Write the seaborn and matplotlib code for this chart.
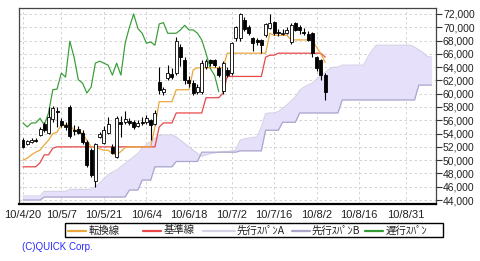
import matplotlib
matplotlib.use("Agg")
import matplotlib.pyplot as plt
import seaborn as sns
import numpy as np
import pandas as pd
from matplotlib.lines import Line2D
from matplotlib.patches import Rectangle

sns.set_theme(style="white")
plt.rcParams['font.family'] = ['Liberation Sans', 'Noto Sans CJK JP', 'DejaVu Sans']

# ---------------- data ----------------
tick_labels = ["10/4/20", "10/5/7", "10/5/21", "10/6/4", "10/6/18",
               "10/7/2", "10/7/16", "10/8/2", "10/8/16", "10/8/31"]
tick_days = [0, 9, 19, 29, 39, 49, 59, 69, 79, 90]

opens = [53000, 52500, 52800, 53000, 53800, 55400, 54100, 56200, 57400, 55900,
         55300, 58000, 54600, 54700, 54100, 52700, 51500, 46800, 53500, 52600,
         54100, 52000, 50500, 55700, 55700, 55900, 55800, 55200, 55800, 55800,
         56000, 55500, 61800, 60200, 62400, 63000, 63100, 67000, 65000, 62000,
         61600, 60300, 60300, 64000, 65000, 65000, 63900, 60400, 63500, 63100,
         68400, 68400, 71100, 70000, 68400, 68100, 68100, 68800, 69900, 70800,
         69300, 69000, 69200, 67800, 70600, 70000, 69300, 69000, 69100, 65500,
         65100, 62800]
highs = [53300, 53100, 53300, 53400, 55000, 55700, 58000, 58200, 58000, 56400,
         55700, 58300, 55300, 55200, 54500, 53000, 51800, 52600, 54300, 55200,
         56500, 52500, 56600, 56700, 57400, 56300, 56000, 56000, 56500, 56800,
         56200, 57500, 64000, 61000, 64300, 63800, 68500, 67500, 65500, 62600,
         62000, 61500, 65000, 65300, 65300, 65300, 64200, 64900, 64000, 67800,
         70200, 72200, 71500, 70300, 68600, 68400, 68300, 70600, 72000, 71000,
         69800, 69800, 70000, 70600, 70800, 70300, 69900, 69500, 69300, 65700,
         65300, 63100]
lows = [51800, 52300, 52600, 52700, 53600, 54300, 53900, 55800, 55000, 55000,
        54600, 53300, 53800, 53900, 52400, 49000, 47500, 46000, 53300, 52400,
        53900, 50900, 50300, 53500, 55400, 55300, 54700, 55000, 55300, 55500,
        53000, 55300, 60000, 59800, 62000, 62200, 62800, 64200, 61500, 61000,
        59800, 60000, 60000, 63700, 64200, 64000, 62500, 59900, 62500, 62800,
        68000, 68000, 69400, 68800, 66400, 67400, 66100, 68500, 69700, 68800,
        68700, 68800, 69000, 67500, 69400, 69000, 68800, 68000, 65500, 63400,
        62100, 59000]
closes = [52000, 52900, 53000, 52900, 54700, 54500, 56500, 57800, 57200, 55300,
          55000, 53600, 54400, 54100, 52700, 49300, 47800, 52400, 54000, 54500,
          55500, 51100, 56300, 55500, 56200, 55600, 55000, 55600, 55600, 56300,
          55300, 57100, 60600, 60700, 63100, 62500, 67900, 65500, 62100, 61600,
          60100, 61000, 64600, 64900, 64600, 64300, 62800, 64600, 62800, 67600,
          70000, 72000, 69800, 69100, 67600, 67800, 67300, 70500, 70700, 69100,
          69100, 69100, 69600, 70300, 69600, 69600, 69100, 68100, 66100, 63800,
          62800, 60300]

tenkan = [50000, 50300, 50800, 51200, 51500, 52300, 53000, 54000, 54200, 55300,
          55300, 55300, 54500, 54500, 54000, 53000, 52000, 52000, 51700, 51500,
          51500, 51000, 50800, 51300, 51900, 52000, 52000, 52000, 52000, 52000,
          52000, 55000, 58800, 58800, 58800, 58800, 60600, 60600, 60600, 60600,
          63600, 63900, 63900, 63900, 63900, 63900, 63900, 63900, 66100, 66100,
          66100, 66100, 66100, 66100, 66100, 66100, 66100, 66100, 69100, 68800,
          68800, 68800, 68800, 68100, 68100, 68100, 68100, 68100, 68100, 67000,
          66000, 64700]
kijun = [49000, 49000, 49000, 49000, 49600, 50800, 50800, 51800, 52000, 52000,
         52000, 52000, 52000, 52000, 52000, 52000, 52000, 52000, 52000, 52000,
         52000, 52000, 52000, 52000, 52000, 52000, 52000, 52000, 52000, 52000,
         52000, 52000, 55000, 55600, 55600, 55600, 57100, 57100, 57100, 57100,
         57100, 57100, 57100, 59400, 59400, 59400, 59400, 60100, 62600, 62600,
         62600, 62600, 62600, 62600, 62600, 62600, 62600, 65500, 65800, 65800,
         66100, 66100, 66100, 66100, 66100, 66100, 66100, 66100, 66100, 66100,
         66100, 65500]
span_a = [44600, 44600, 44600, 44600, 44600, 45300, 45300, 45300, 45300, 45300,
          45300, 45600, 45600, 45600, 45600, 45600, 45600, 46000, 46500, 47200,
          47800, 48200, 48500, 49000, 49500, 50000, 50500, 51000, 51800, 52300,
          52800, 53300, 53700, 53800, 53800, 53800, 53500, 53000, 52500, 52000,
          51500, 51000, 50600, 50800, 51000, 51100, 51200, 51300, 51300, 51400,
          51500, 53000, 53200, 53300, 53400, 53500, 55000, 57000, 57100, 57100,
          57300, 57800, 58300, 58900, 59500, 60500, 61000, 61300, 61600, 62200,
          62700, 63200, 63700, 64000, 64000, 64300, 64300, 64300, 64300, 64300,
          64300, 65500, 66500, 67300, 67300, 67300, 67300, 67300, 67300, 67300,
          67300, 67300, 67000, 66600, 66200, 65600, 65500]
span_b = [44000, 44000, 44000, 44000, 44000, 44450, 44450, 44450, 44450, 44450,
          44450, 44450, 44450, 44450, 44450, 44450, 44450, 44450, 44450, 44450,
          44450, 44450, 44450, 44450, 44450, 45500, 45500, 45500, 47000, 47000,
          47000, 49000, 49000, 49000, 49000, 49000, 49800, 49800, 49800, 49800,
          49800, 49800, 51200, 51200, 51200, 51200, 51200, 51200, 51200, 51200,
          51200, 51400, 51400, 51400, 51400, 51400, 51400, 54500, 54500, 54500,
          54500, 55700, 55700, 55700, 55700, 57100, 57100, 57100, 57100, 57100,
          57100, 57100, 57100, 57100, 57100, 59060, 59060, 59060, 59060, 59060,
          59060, 59060, 59060, 59060, 59060, 59060, 59060, 59060, 59060, 59060,
          59060, 59060, 59060, 61300, 61300, 61300, 61300]
lag = 25

# ---------------- frames ----------------
price = pd.DataFrame({"day": np.arange(len(closes)), "open": opens, "high": highs,
                      "low": lows, "close": closes, "tenkan": tenkan, "kijun": kijun})
cloud = pd.DataFrame({"day": np.arange(len(span_a)), "a": span_a, "b": span_b})
chikou = pd.DataFrame({"day": price["day"].values[:len(closes) - lag],
                       "v": price["close"].values[lag:]})

W, H = 480, 261
fig = plt.figure(figsize=(W / 100, H / 100), dpi=100)
fig.patch.set_facecolor("white")
L, R, T, B = 19, 436, 8, 204
ax = fig.add_axes([L / W, 1 - B / H, (R - L) / W, (B - T) / H])
ax.set_facecolor("white")

# cloud
ax.fill_between(cloud["day"], cloud["a"], cloud["b"], color="#e6e0fa", lw=0, zorder=1)
sns.lineplot(data=cloud, x="day", y="a", ax=ax, color="#d6d3e6", lw=0.9, zorder=2)
sns.lineplot(data=cloud, x="day", y="b", ax=ax, color="#aaa6cc", lw=0.9, zorder=2)

# lines
sns.lineplot(data=price, x="day", y="kijun", ax=ax, color="#e84848", lw=0.9, zorder=3)
sns.lineplot(data=price, x="day", y="tenkan", ax=ax, color="#eaa83c", lw=0.9, zorder=3)
sns.lineplot(data=chikou, x="day", y="v", ax=ax, color="#349c34", lw=0.85, zorder=3)

# candles
up = price["close"] >= price["open"]
ax.vlines(price["day"], price["low"], price["high"], color="black", lw=0.8, zorder=4)
body_lo = np.minimum(price["open"], price["close"])
body_h = np.maximum(np.abs(price["close"] - price["open"]), 80)
ax.bar(price["day"], body_h, bottom=body_lo, width=0.7,
       color=np.where(up, "white", "black"), edgecolor="black", lw=0.6, zorder=5)

# axes
ax.set_xlim(-0.94, 97.04)
ax.set_ylim(43398, 72903)
yt = np.arange(44000, 72001, 2000)
ax.set_yticks(yt)
ax.set_yticklabels([f"{v:,}" for v in yt])
ax.yaxis.tick_right()
ax.set_xticks(tick_days)
ax.set_xticklabels(tick_labels)
ax.tick_params(axis="y", which="both", direction="out", length=4, width=0.8,
               color="#333333", labelsize=7.5, pad=1, labelcolor="#222222", right=True, left=False)
ax.tick_params(axis="x", direction="out", length=3, width=0.8, color="#6070a0",
               labelsize=8, pad=1.5, labelcolor="#222222")
ax.grid(True, ls=(0, (3, 3)), color="#cccccc", lw=0.6, zorder=0)
ax.set_axisbelow(True)
ax.set_xlabel("")
ax.set_ylabel("")
for s in ["top", "left", "right"]:
    ax.spines[s].set_visible(True)
    ax.spines[s].set_color("#444444")
    ax.spines[s].set_linewidth(0.9)
ax.spines["bottom"].set_color("black")
ax.spines["bottom"].set_linewidth(1.6)

# legend (manual, in pixel coords)
def fx(px):
    return px / W

def fy(py):
    return 1 - py / H

fig.patches.append(Rectangle((fx(65), fy(237)), fx(443) - fx(65), fy(223) - fy(237),
                             transform=fig.transFigure, fill=False, ec="black", lw=1.0))
legend_items = [
    (68, 86, "#eaa83c", "転換線", 89),
    (143, 161, "#e84848", "基準線", 164),
    (203, 235, "#d6d3e6", "先行ｽﾊﾟﾝA", 237),
    (292, 310, "#aaa6cc", "先行ｽﾊﾟﾝB", 312),
    (365, 383, "#349c34", "遅行ｽﾊﾟﾝ", 386),
]
ly = 230.5
for x0, x1, col, lab, tx in legend_items:
    fig.lines.append(Line2D([fx(x0), fx(x1)], [fy(ly), fy(ly)], transform=fig.transFigure,
                            color=col, lw=1.6))
    fig.text(fx(tx), fy(ly), lab, ha="left", va="center", fontsize=7.5,
             family=["Noto Sans CJK JP", "DejaVu Sans"], color="#222222")

fig.text(fx(22), fy(247), "(C)QUICK Corp.", ha="left", va="center", fontsize=7,
         color="#2a2aff")

fig.savefig("out.png", dpi=100)
